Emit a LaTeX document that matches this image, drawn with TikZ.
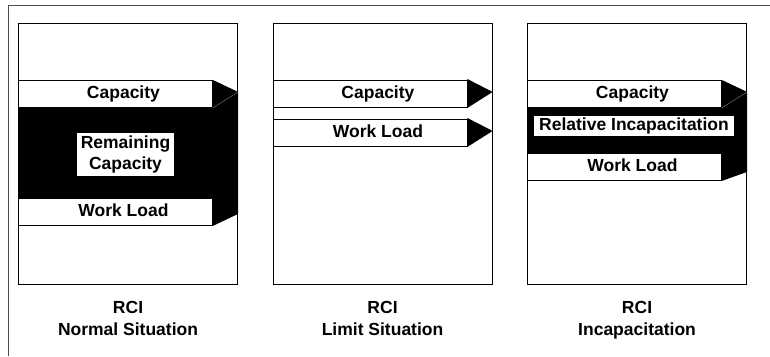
\documentclass[tikz,border=0pt]{standalone}
\usepackage{fontspec}
\setmainfont{Liberation Sans}
\usetikzlibrary{positioning}
\tikzset{
  panel/.style={draw, line width=1.1pt, minimum width=219pt, minimum height=261pt, inner sep=0pt, anchor=north west},
  bar/.style={draw, fill=white, line width=0.9pt, minimum width=194pt, minimum height=27pt, inner sep=0pt, anchor=north west},
  lbl/.style={font=\fontsize{17.5}{21.5}\selectfont\bfseries, inner sep=0pt},
  barlbl/.style={lbl, text height=12.5pt, text depth=3.7pt},
  caption/.style={lbl, align=center},
  tag/.style={lbl, fill=white, align=center, inner xsep=4pt, inner ysep=3pt},
  seam/.style={draw=gray, line width=0.4pt},
}

\begin{document}
\begin{tikzpicture}[x=1pt, y=-1pt]
  \useasboundingbox (0,0) rectangle (770,356);
  % outer frame
  \draw[gray!60!black, line width=1pt] (8,356) -- (8,5) -- (770,5);

  % panels
  \node[panel] (boxA) at (18,23) {};
  \node[panel] (boxB) at (272.5,23) {};
  \node[panel] (boxC) at (527,23) {};

  % normal situation
  \node[bar] (capA) at (18,80) {};
  \node[bar] (wlA) at (18,198) {};
  \fill (capA.north west) -- (capA.north east) -- ([yshift=2pt]capA.east -| boxA.east)
    -- ([yshift=12pt]wlA.south -| boxA.east) -- (wlA.south east) -- (wlA.south west) -- cycle;
  \node[bar] at (capA.north west) {};
  \node[bar] at (wlA.north west) {};
  \draw[seam] ([yshift=2pt]capA.east -| boxA.east) -- (capA.south east);
  \node[barlbl] (tCapA) at ([xshift=8pt]capA.center) {Capacity};
  \node[barlbl] (tWlA) at ([xshift=8pt]wlA.center) {Work Load};
  \node[tag] (remA) at (125.5,154.5) {Remaining\\Capacity};
  \node[caption, below=16pt of boxA] (nameA) {RCI\\Normal Situation};

  % limit situation
  \node[bar] (capB) at (272.5,80) {};
  \node[bar] (wlB) at (272.5,119) {};
  \fill ([yshift=1pt]capB.north east) -- ([yshift=2pt]capB.east -| boxB.east) -- (capB.south east) -- cycle;
  \fill ([yshift=1pt]wlB.north east) -- ([yshift=2pt]wlB.east -| boxB.east) -- (wlB.south east) -- cycle;
  \node[barlbl] (tCapB) at ([xshift=8pt]capB.center) {Capacity};
  \node[barlbl] (tWlB) at ([xshift=8pt]wlB.center) {Work Load};
  \node[caption, below=16pt of boxB] (nameB) {RCI\\Limit Situation};

  % incapacitation
  \node[bar] (capC) at (527,80) {};
  \node[bar] (wlC) at (527,153) {};
  \fill (capC.north west) -- (capC.north east) -- ([yshift=2pt]capC.east -| boxC.east)
    -- ([yshift=9pt]wlC.south -| boxC.east) -- (wlC.south east) -- (wlC.south west) -- cycle;
  \node[bar] at (capC.north west) {};
  \node[bar] at (wlC.north west) {};
  \draw[seam] ([yshift=2pt]capC.east -| boxC.east) -- (capC.south east);
  \node[barlbl] (tCapC) at ([xshift=8pt]capC.center) {Capacity};
  \node[barlbl] (tWlC) at ([xshift=8pt]wlC.center) {Work Load};
  \node[tag, inner xsep=5pt, inner ysep=0pt, minimum height=20pt, text height=12.5pt, text depth=3.7pt] (incC) at (634,126) {Relative Incapacitation};
  \node[caption, below=16pt of boxC] (nameC) {RCI\\Incapacitation};
\end{tikzpicture}
\end{document}
